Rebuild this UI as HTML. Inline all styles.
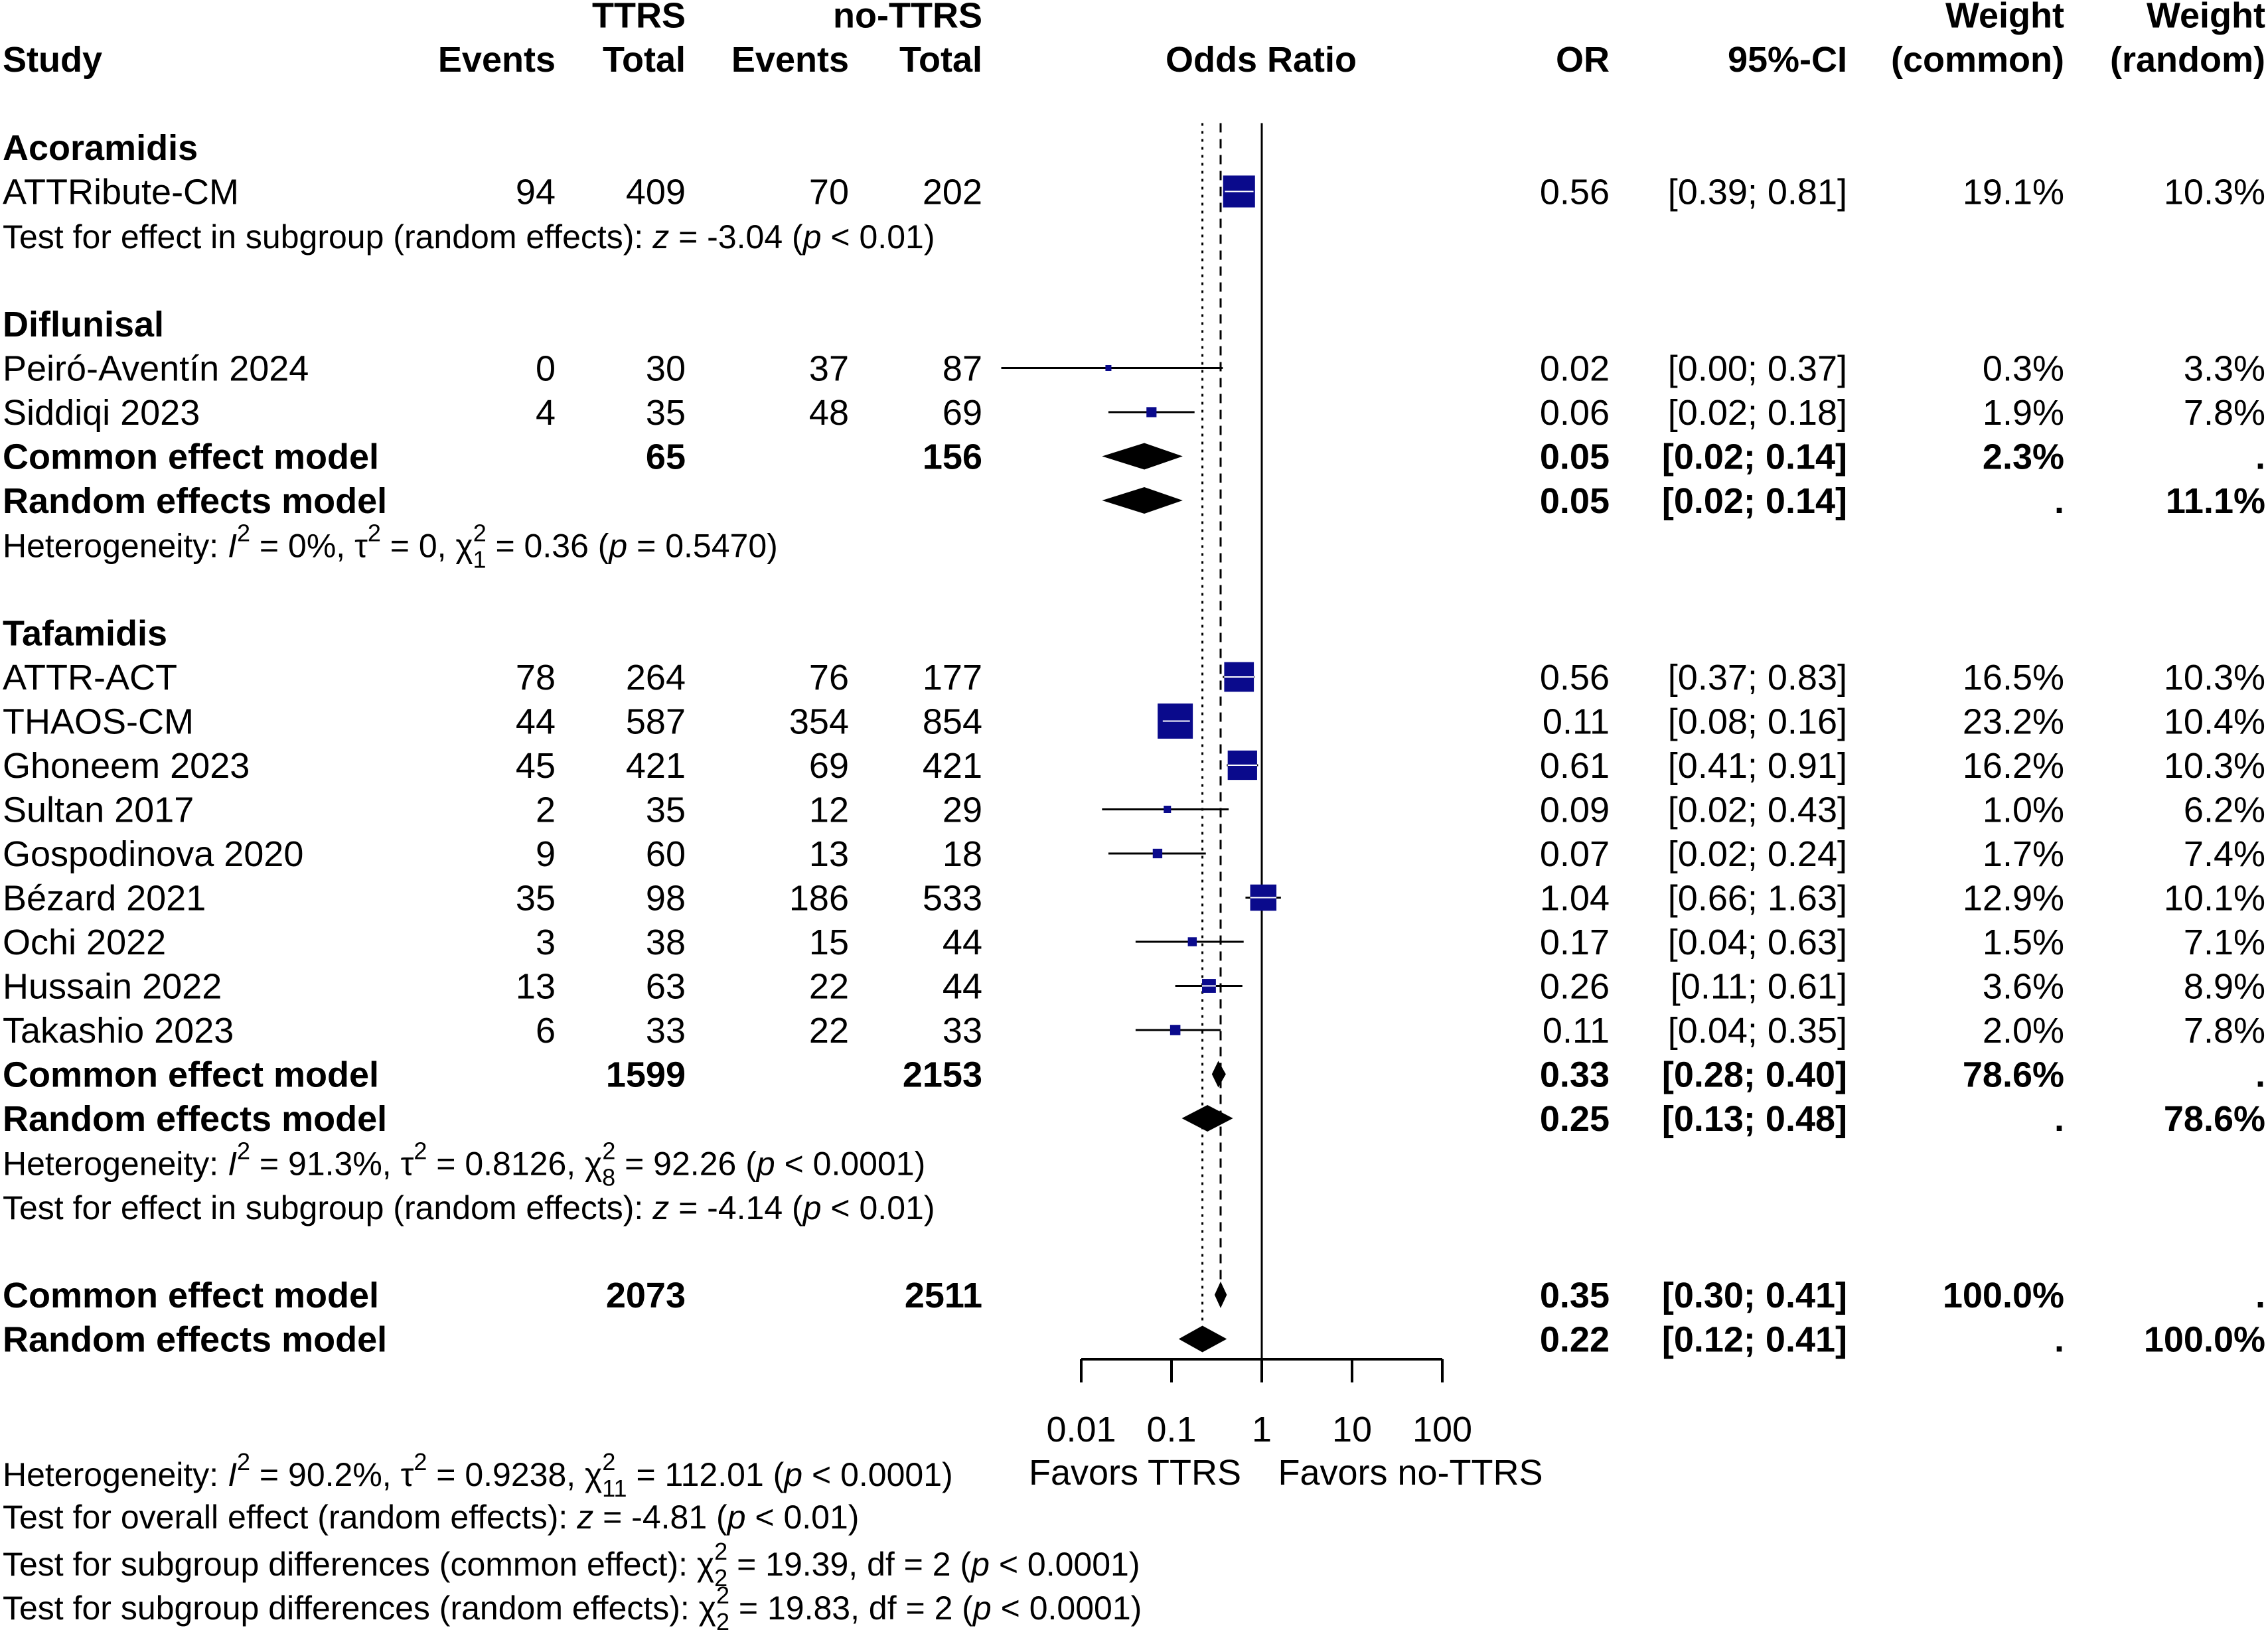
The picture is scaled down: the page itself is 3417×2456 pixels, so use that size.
<!DOCTYPE html>
<html><head><meta charset="utf-8"><style>
html,body{margin:0;padding:0;background:#fff}
svg{display:block}
text{font-family:"Liberation Sans",Arial,sans-serif;font-size:54px;fill:#000}
.b{font-weight:bold}
.h{font-size:50px}
</style></head><body>
<svg id="plot" width="3417" height="2456" viewBox="0 0 3417 2456" xmlns="http://www.w3.org/2000/svg"></svg>
<script>
const studyNames=["ATTRibute-CM","Peiró-Aventín 2024","Siddiqi 2023","ATTR-ACT","THAOS-CM","Ghoneem 2023","Sultan 2017","Gospodinova 2020","Bézard 2021","Ochi 2022","Hussain 2022","Takashio 2023"];
const studyRows=[3,7,8,14,15,16,17,18,19,20,21,22];
const ev1=["94","0","4","78","44","45","2","9","35","3","13","6"];
const tot1=["409","30","35","264","587","421","35","60","98","38","63","33"];
const ev2=["70","37","48","76","354","69","12","13","186","15","22","22"];
const tot2=["202","87","69","177","854","421","29","18","533","44","44","33"];
const orVal=[0.56,0.02,0.06,0.56,0.11,0.61,0.09,0.07,1.04,0.17,0.26,0.11];
const ciLo=[0.39,0.0013,0.02,0.37,0.08,0.41,0.017,0.02,0.66,0.04,0.11,0.04];
const ciHi=[0.81,0.37,0.18,0.83,0.16,0.91,0.43,0.24,1.63,0.63,0.61,0.35];
const orTxt=["0.56","0.02","0.06","0.56","0.11","0.61","0.09","0.07","1.04","0.17","0.26","0.11"];
const ciTxt=["[0.39; 0.81]","[0.00; 0.37]","[0.02; 0.18]","[0.37; 0.83]","[0.08; 0.16]","[0.41; 0.91]","[0.02; 0.43]","[0.02; 0.24]","[0.66; 1.63]","[0.04; 0.63]","[0.11; 0.61]","[0.04; 0.35]"];
const wCommon=[19.1,0.3,1.9,16.5,23.2,16.2,1.0,1.7,12.9,1.5,3.6,2.0];
const wRandom=["10.3%","3.3%","7.8%","10.3%","10.4%","10.3%","6.2%","7.4%","10.1%","7.1%","8.9%","7.8%"];
const poolNames=["Common effect model","Random effects model","Common effect model","Random effects model","Common effect model","Random effects model"];
const poolRows=[9,10,23,24,28,29];
const poolT1=["65","","1599","","2073",""];
const poolT2=["156","","2153","","2511",""];
const poolOR=[0.05,0.05,0.33,0.25,0.35,0.22];
const poolLo=[0.017,0.017,0.28,0.13,0.30,0.12];
const poolHi=[0.133,0.133,0.40,0.48,0.41,0.41];
const poolORTxt=["0.05","0.05","0.33","0.25","0.35","0.22"];
const poolCITxt=["[0.02; 0.14]","[0.02; 0.14]","[0.28; 0.40]","[0.13; 0.48]","[0.30; 0.41]","[0.12; 0.41]"];
const poolWC=["2.3%",".","78.6%",".","100.0%","."];
const poolWR=[".","11.1%",".","78.6%",".","100.0%"];
const overallCommon=0.35, overallRandom=0.22;
const tickVals=[0.01,0.1,1,10,100];
const tickLabels=["0.01","0.1","1","10","100"];

const svg=document.getElementById('plot');
const NS="http://www.w3.org/2000/svg";
const X1=1901, DEC=136;
function xs(v){return X1+DEC*Math.log10(v);}
function rowY(k){return 89+66.5*k;}
function el(tag,attrs,parent){const e=document.createElementNS(NS,tag);for(const a in attrs)e.setAttribute(a,attrs[a]);(parent||svg).appendChild(e);return e;}
function txt(s,x,y,anchor,cls,name){const t=el('text',{x:x,y:y,'text-anchor':anchor||'start'});if(cls)t.setAttribute('class',cls);t.textContent=s;


return t;}
function base(k){return rowY(k)+19;}

txt("TTRS",1033,base(-1),'end','b','ttrs-header');
txt("no-TTRS",1480,base(-1),'end','b','no-ttrs-header');
txt("Weight",3110,base(-1),'end','b','weight-header');
txt("Weight",3413,base(-1),'end','b','weight-header');
txt("Study",4,base(0),'start','b','study-header');
txt("Events",837,base(0),'end','b','events-header');
txt("Total",1033,base(0),'end','b','total-header');
txt("Events",1279,base(0),'end','b','events-header');
txt("Total",1480,base(0),'end','b','total-header');
txt("Odds Ratio",1900,base(0),'middle','b','odds-ratio-header');
txt("OR",2425,base(0),'end','b','or-header');
txt("95%-CI",2783,base(0),'end','b','ci-header');
txt("(common)",3110,base(0),'end','b','weight-common-header');
txt("(random)",3413,base(0),'end','b','weight-random-header');
txt("Acoramidis",4,base(2),'start','b','subgroup-acoramidis');
txt("Diflunisal",4,base(6),'start','b','subgroup-diflunisal');
txt("Tafamidis",4,base(13),'start','b','subgroup-tafamidis');

const topY=rowY(1)+30;
el('line',{x1:xs(1),x2:xs(1),y1:topY,y2:2048,stroke:'#000','stroke-width':3,});
el('line',{x1:xs(overallCommon),x2:xs(overallCommon),y1:topY,y2:rowY(28)-20,stroke:'#000','stroke-width':3,'stroke-dasharray':'14,10',});
el('line',{x1:xs(overallRandom),x2:xs(overallRandom),y1:topY,y2:rowY(29)-20,stroke:'#000','stroke-width':3,'stroke-dasharray':'4,8',});

el('line',{x1:xs(tickVals[0]),x2:xs(tickVals[tickVals.length-1]),y1:2048,y2:2048,stroke:'#000','stroke-width':4,});
tickVals.forEach((v,i)=>{
  el('line',{x1:xs(v),x2:xs(v),y1:2048,y2:2083,stroke:'#000','stroke-width':4,});
  txt(tickLabels[i],xs(v),2172,'middle',null,'x-tick-label');
});
txt("Favors TTRS",1710,2237,'middle',null,'favors-ttrs-label');
txt("Favors no-TTRS",2125,2237,'middle',null,'favors-no-ttrs-label');

studyNames.forEach((n,i)=>{
  const k=studyRows[i], y=rowY(k), b=base(k);
  txt(n,4,b,'start',null,'study-name');
  txt(ev1[i],837,b,'end',null,'ttrs-events');
  txt(tot1[i],1033,b,'end',null,'ttrs-total');
  txt(ev2[i],1279,b,'end',null,'no-ttrs-events');
  txt(tot2[i],1480,b,'end',null,'no-ttrs-total');
  txt(orTxt[i],2425,b,'end',null,'or-value');
  txt(ciTxt[i],2783,b,'end',null,'ci-value');
  txt(wCommon[i].toFixed(1)+"%",3110,b,'end',null,'weight-common');
  txt(wRandom[i],3413,b,'end',null,'weight-random');
  const ci=el('line',{x1:xs(ciLo[i]),x2:xs(ciHi[i]),y1:y,y2:y,stroke:'#000','stroke-width':3});
  
  
  const s=Math.max(9,11*Math.sqrt(wCommon[i]));
  const sq=el('rect',{x:xs(orVal[i])-s/2,y:y-s/2,width:s,height:s,fill:'#0a0a8c'});
  
  
  const lx1=Math.max(xs(ciLo[i]),xs(orVal[i])-s/2), lx2=Math.min(xs(ciHi[i]),xs(orVal[i])+s/2);
  if(s>20){
    const wl=el('line',{x1:lx1,x2:lx2,y1:y,y2:y,stroke:'#fff','stroke-width':2});
    
    
  }
});

poolNames.forEach((n,i)=>{
  const k=poolRows[i], y=rowY(k), b=base(k);
  txt(n,4,b,'start','b','pooled-name');
  if(poolT1[i])txt(poolT1[i],1033,b,'end','b','pooled-ttrs-total');
  if(poolT2[i])txt(poolT2[i],1480,b,'end','b','pooled-no-ttrs-total');
  txt(poolORTxt[i],2425,b,'end','b','pooled-or');
  txt(poolCITxt[i],2783,b,'end','b','pooled-ci');
  txt(poolWC[i],3110,b,'end','b','pooled-weight-common');
  txt(poolWR[i],3413,b,'end','b','pooled-weight-random');
  const l=xs(poolLo[i]),r=xs(poolHi[i]),c=xs(poolOR[i]);
  const d=el('polygon',{points:`${l},${y} ${c},${y-20} ${r},${y} ${c},${y+20}`,fill:'#000'});
  
  
});

function rich(parts,x,y,name,cls){
  const t=el('text',{x:x,y:y});
  if(cls)t.setAttribute('class',cls);
  
  
  parts.forEach(p=>{const s=el('tspan',p.a||{},t);s.textContent=p.t;});
  return t;
}
function het(I2,tau,df,chi,p,y,name,cls,fs){
  const sup=Math.round(fs*0.72);
  return rich([
    {t:"Heterogeneity: "},{t:"I",a:{'font-style':'italic'}},
    {t:"2",a:{dy:-24,'font-size':sup}},{t:" = "+I2+", τ",a:{dy:24}},
    {t:"2",a:{dy:-24,'font-size':sup}},{t:" = "+tau+", χ",a:{dy:24}},
    {t:"2",a:{dy:-24,'font-size':sup}},{t:df,a:{dx:-sup*0.56,dy:40,'font-size':sup}},
    {t:" = "+chi+" (",a:{dy:-16}},{t:"p",a:{'font-style':'italic'}},{t:" "+p+")"}
  ],4,y,name,cls);
}
function testLine(pre,z,p,y,name){
  return rich([{t:pre+": "},{t:"z",a:{'font-style':'italic'}},{t:" = "+z+" ("},{t:"p",a:{'font-style':'italic'}},{t:" < "+p+")"}],4,y,name,'h');
}
function subTest(pre,chi,y,name){
  return rich([{t:pre+": χ"},{t:"2",a:{dy:-24,'font-size':36}},{t:"2",a:{dx:-20,dy:40,'font-size':36}},{t:" = "+chi+", df = 2 (",a:{dy:-16}},{t:"p",a:{'font-style':'italic'}},{t:" < 0.0001)"}],4,y,name,'h');
}
testLine("Test for effect in subgroup (random effects)","-3.04","0.01",base(4),'subgroup-test-acoramidis');
het("0%","0","1","0.36","= 0.5470",base(11),'heterogeneity-diflunisal','h',50);
het("91.3%","0.8126","8","92.26","< 0.0001",base(25),'heterogeneity-tafamidis','h',50);
testLine("Test for effect in subgroup (random effects)","-4.14","0.01",base(26),'subgroup-test-tafamidis');
het("90.2%","0.9238","11","112.01","< 0.0001",2239,'heterogeneity-overall','h',50);
testLine("Test for overall effect (random effects)","-4.81","0.01",2303,'overall-effect-test');
subTest("Test for subgroup differences (common effect)","19.39",2374,'subgroup-diff-common');
subTest("Test for subgroup differences (random effects)","19.83",2440,'subgroup-diff-random');
</script>
</body></html>
